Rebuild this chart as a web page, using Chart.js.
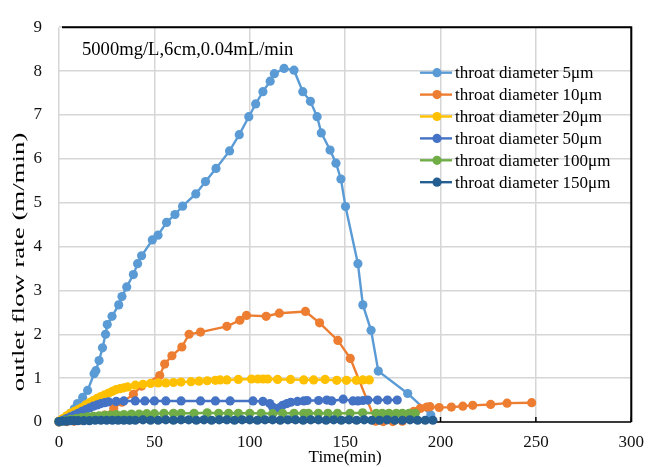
<!DOCTYPE html>
<html><head><meta charset="utf-8">
<script src="https://cdn.jsdelivr.net/npm/chart.js@4.4.0/dist/chart.umd.min.js"></script>
<style>html,body{margin:0;padding:0;background:#fff;}#wrap{width:654px;height:467px;}</style>
</head><body><div id="wrap"><canvas id="c" width="654" height="467"></canvas></div>
<script>
const seriesLabels = ['throat diameter 5\u03bcm','throat diameter 10\u03bcm','throat diameter 20\u03bcm','throat diameter 50\u03bcm','throat diameter 100\u03bcm','throat diameter 150\u03bcm'];
const seriesColors = ['#5B9BD5','#ED7D31','#FFC000','#4472C4','#70AD47','#255E91'];
const xTicks = [0,50,100,150,200,250,300];
const yTicks = [0,1,2,3,4,5,6,7,8,9];
const annotationText = '5000mg/L,6cm,0.04mL/min';
const xTitle = 'Time(min)';
const yTitle = 'outlet flow rate (m/min)';

const x5 = [0,2,4,6,8,9.7,12.4,15,18.4,19.3,21,22.8,24.4,25.3,27.8,31.3,33,35.5,39,41.2,43.3,48.9,51.9,56.4,60.8,64.8,71.7,76.8,82.3,89.4,94.5,99.5,103.1,106.9,110.7,112.9,118,123.2,127.8,131.8,135.3,137.5,142.1,145.2,147.8,150.2,156.7,159.3,163.6,167.4,182.8,194.9];
const y5 = [0,0.05,0.12,0.2,0.3,0.42,0.56,0.72,1.1,1.17,1.4,1.69,2.0,2.22,2.41,2.67,2.86,3.08,3.36,3.61,3.79,4.15,4.26,4.55,4.73,4.92,5.2,5.48,5.78,6.18,6.55,6.96,7.25,7.53,7.77,7.94,8.06,8.02,7.53,7.31,6.96,6.59,6.2,5.9,5.54,4.91,3.61,2.67,2.09,1.16,0.65,0.16];

const x10 = [0,4,8,12,16,20,24,28.7,33,39,43.3,52.8,55.4,59.2,64.4,68.2,74.2,88,94.8,98.3,108.6,115.5,129.2,136.6,146.2,152.7,166,170,175,180,183,186,189.4,192.8,194.5,199.3,205.7,211.7,216.9,226.3,234.9,247.8];
const y10 = [0,0.01,0.02,0.04,0.06,0.1,0.16,0.31,0.45,0.63,0.82,1.06,1.32,1.51,1.71,2.0,2.05,2.18,2.32,2.43,2.41,2.48,2.52,2.26,1.86,1.45,0.02,0.01,0.01,0.02,0.15,0.24,0.31,0.34,0.35,0.33,0.34,0.36,0.38,0.4,0.43,0.44];

const x20 = [0,2,4,6,8,10,12,14,16,18,20,22,24,26,28,30,32,34,36,40,44,48,52,56,60,64,69.2,73.4,77.7,82,84.5,88,94,100.9,104.3,107,109.4,114.6,121.4,128.3,133.5,139.5,145.6,150.7,155.9,159.3,162.7];
const y20 = [0.02,0.08,0.14,0.2,0.24,0.28,0.33,0.39,0.44,0.49,0.54,0.58,0.62,0.66,0.7,0.74,0.76,0.78,0.8,0.84,0.86,0.88,0.89,0.89,0.9,0.91,0.92,0.93,0.94,0.95,0.96,0.96,0.97,0.98,0.98,0.98,0.98,0.97,0.97,0.96,0.96,0.97,0.95,0.95,0.95,0.96,0.96];

const x50 = [0,2,4,6,8,10,12,14,16,18,20,22,24,26,30,34,40,45,50,56,64,74.2,82,89.7,101.7,106.9,110.5,112,113.8,115.5,117.2,119.5,121.5,125,128.3,130.1,136.1,140.4,143,149,154.1,156.7,159.3,161.9,167,172.2,177.3];
const y50 = [0.01,0.04,0.08,0.12,0.16,0.2,0.24,0.28,0.32,0.36,0.39,0.42,0.44,0.46,0.47,0.48,0.48,0.48,0.48,0.48,0.48,0.48,0.48,0.48,0.48,0.47,0.42,0.34,0.3,0.32,0.38,0.42,0.45,0.47,0.48,0.49,0.49,0.5,0.48,0.52,0.48,0.48,0.49,0.5,0.5,0.5,0.5];

const x100 = [0,3,6,9,12,15,18,21,24,27,30,34,38,42,46,50,55,60,64,70.8,77.7,83.7,88.9,94,100,106,112,117.2,123.2,128.3,130.8,136,141,146,152.6,159.2,166.3,169.5,173,176.8,180,183.5,186.8];
const y100 = [0.01,0.03,0.06,0.08,0.1,0.12,0.13,0.14,0.15,0.16,0.17,0.17,0.18,0.18,0.19,0.19,0.2,0.2,0.2,0.2,0.21,0.2,0.2,0.2,0.2,0.2,0.19,0.2,0.2,0.2,0.2,0.2,0.2,0.2,0.2,0.21,0.2,0.2,0.2,0.2,0.2,0.2,0.2];

const x150 = [0,2,4,6,8,10,13,16,19,22,25,28,31,34,37,40,44,48,52,56,60,64,68,72,76,80,84,88,92,96,100,104,108,112,116,120,124,128,132,136,140,144,148,152,156,160,164,168,172,176,180,184,188,192,196];
const y150 = [0.01,0.02,0.02,0.03,0.03,0.03,0.03,0.03,0.04,0.04,0.04,0.04,0.04,0.04,0.04,0.04,0.05,0.04,0.04,0.05,0.04,0.05,0.05,0.04,0.05,0.04,0.05,0.05,0.04,0.05,0.05,0.04,0.05,0.05,0.04,0.05,0.05,0.04,0.05,0.05,0.04,0.05,0.04,0.05,0.04,0.05,0.04,0.04,0.05,0.04,0.04,0.05,0.04,0.04,0.04];

const seriesX = [x5,x10,x20,x50,x100,x150];
const seriesY = [y5,y10,y20,y50,y100,y150];

const FONT = '"Liberation Serif","Times New Roman",serif';

const datasets = seriesLabels.map((lab,i)=>({
  label: lab,
  data: seriesX[i].map((xv,j)=>({x:xv,y:seriesY[i][j]})),
  borderColor: seriesColors[i],
  backgroundColor: seriesColors[i],
  pointBackgroundColor: seriesColors[i],
  pointBorderColor: seriesColors[i],
  pointBorderWidth: 0,
  pointRadius: 4.6,
  borderWidth: 2.4,
  showLine: true,
  tension: 0,
  clip: false,
  order: seriesLabels.length - i
}));

const deco = {
  id: 'deco',
  beforeDatasetsDraw(chart){
    const {ctx, chartArea:a, scales:{x,y}} = chart;
    ctx.save();
    ctx.strokeStyle = '#000';
    ctx.lineWidth = 1.5;
    const y0 = y.getPixelForValue(0);
    ctx.beginPath(); ctx.moveTo(a.left, y0); ctx.lineTo(a.right, y0); ctx.stroke();
    xTicks.forEach(v=>{
      const px = x.getPixelForValue(v);
      ctx.beginPath(); ctx.moveTo(px, y0); ctx.lineTo(px, y0-5); ctx.stroke();
    });
    ctx.lineWidth = 2;
    ctx.beginPath(); ctx.moveTo(a.left+3, a.top); ctx.lineTo(a.right, a.top); ctx.lineTo(a.right, a.bottom); ctx.stroke();
    ctx.restore();
  },
  afterDraw(chart){
    const {ctx} = chart;
    ctx.save();
    ctx.fillStyle = '#000';
    ctx.font = '18.6px ' + FONT;
    ctx.textAlign = 'left'; ctx.textBaseline = 'alphabetic';
    ctx.fillText(annotationText, 82, 55);
    // y title (stretched as in the reference)
    ctx.save();
    ctx.translate(20, 262);
    ctx.rotate(-Math.PI/2);
    ctx.scale(1.58, 1);
    ctx.font = '17px ' + FONT;
    ctx.textAlign = 'center'; ctx.textBaseline = 'middle';
    ctx.fillText(yTitle, 0, 0);
    ctx.restore();
    // legend
    ctx.font = '17px ' + FONT;
    ctx.textAlign = 'left'; ctx.textBaseline = 'alphabetic';
    seriesLabels.forEach((lab,i)=>{
      const cy = 72.7 + i*21.9;
      ctx.strokeStyle = seriesColors[i]; ctx.lineWidth = 2.4;
      ctx.beginPath(); ctx.moveTo(420, cy); ctx.lineTo(452, cy); ctx.stroke();
      ctx.fillStyle = seriesColors[i];
      ctx.beginPath(); ctx.arc(437, cy, 4.6, 0, Math.PI*2); ctx.fill();
      ctx.fillStyle = '#000';
      ctx.fillText(lab, 455, cy + 5.5);
    });
    ctx.restore();
  }
};

new Chart(document.getElementById('c'), {
  type: 'scatter',
  data: { datasets },
  options: {
    responsive: false,
    devicePixelRatio: 1,
    animation: false,
    layout: { padding: { top: 22, right: 12, left: 0, bottom: 0 } },
    plugins: { legend: { display: false }, tooltip: { enabled: false } },
    scales: {
      x: {
        type: 'linear', min: 0, max: 300,
        afterBuildTicks(s){ s.ticks = xTicks.map(v=>({value:v})); },
        afterFit(s){ s.height = 45; },
        ticks: { font: { family: FONT, size: 17 }, color: '#111', padding: 10, maxRotation: 0 },
        grid: { color: '#d6d6d6', lineWidth: 1.5, drawTicks: false },
        border: { display: false },
        title: { display: true, text: xTitle, font: { family: FONT, size: 17 }, color: '#000', padding: { top: 0, bottom: -1 } }
      },
      y: {
        type: 'linear', min: 0, max: 9,
        afterBuildTicks(s){ s.ticks = yTicks.map(v=>({value:v})); },
        afterFit(s){ s.width = 59; },
        ticks: { font: { family: FONT, size: 17 }, color: '#111', padding: 17 },
        grid: { color: '#d6d6d6', lineWidth: 1.5, drawTicks: false },
        border: { display: false }
      }
    }
  },
  plugins: [deco]
});
</script>
</body></html>
